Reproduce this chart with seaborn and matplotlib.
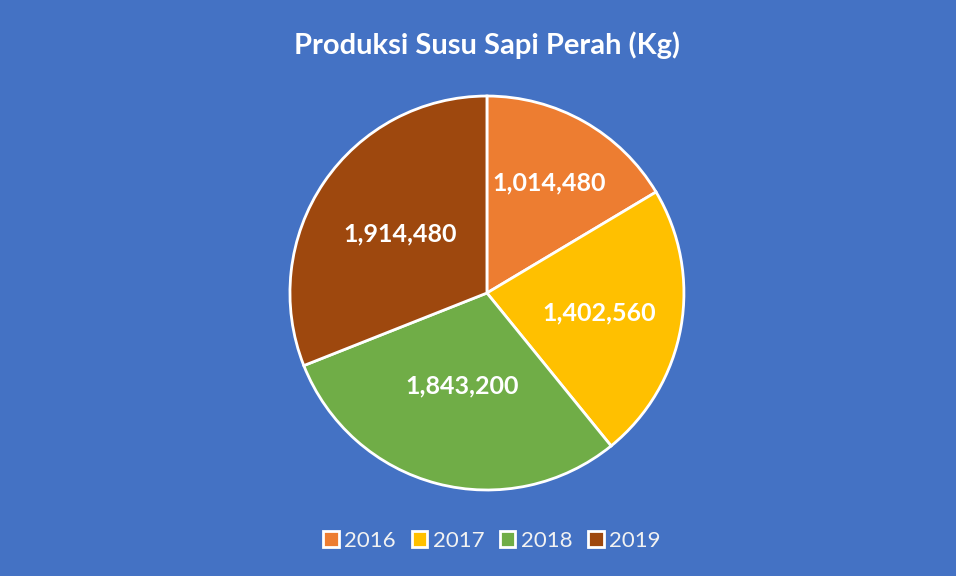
import numpy as np
import matplotlib
matplotlib.use('Agg')
import matplotlib.pyplot as plt
import seaborn as sns

# data
years = ['2016', '2017', '2018', '2019']
produksi = [1014480, 1402560, 1843200, 1914480]
slice_colors = ['#ED7D31', '#FFC000', '#70AD47', '#9E480E']

sns.set_theme(style='white')
plt.rcParams['font.family'] = ['Lato', 'DejaVu Sans']

bg = '#4472C4'
fig = plt.figure(figsize=(9.56, 5.76), dpi=100, facecolor=bg)
ax = fig.add_axes([0.3033, 0.1493, 0.4121, 0.684])
ax.set_facecolor(bg)

palette = sns.color_palette(slice_colors)
wedges, _ = ax.pie(produksi, colors=palette, startangle=90, counterclock=False,
                   radius=1, wedgeprops=dict(edgecolor='white', linewidth=2))

# value labels, distance from centre per slice (like excel best fit)
label_dist = [0.64, 0.58, 0.49, 0.53]
for w, val, d in zip(wedges, produksi, label_dist):
    ang = np.deg2rad((w.theta1 + w.theta2) / 2)
    ax.text(d * np.cos(ang), d * np.sin(ang), f'{val:,}', ha='center', va='center',
            color='white', fontsize=18, fontweight='bold')

ax.set_xlim(-1, 1)
ax.set_ylim(-1, 1)
ax.set_aspect('equal')
ax.axis('off')

fig.text(487 / 956, 1 - 45 / 576, 'Produksi Susu Sapi Perah (Kg)', ha='center', va='center',
         color='white', fontsize=21, fontweight='bold')

leg = fig.legend(wedges, years, loc='center', bbox_to_anchor=(492 / 956, 1 - 541 / 576), ncol=4,
                 frameon=False, handlelength=0.7, handleheight=0.7, handletextpad=0.25,
                 columnspacing=0.7, fontsize=16)
for t in leg.get_texts():
    t.set_color('#F2F2F2')

fig.savefig('out.png', dpi=100, facecolor=bg)
